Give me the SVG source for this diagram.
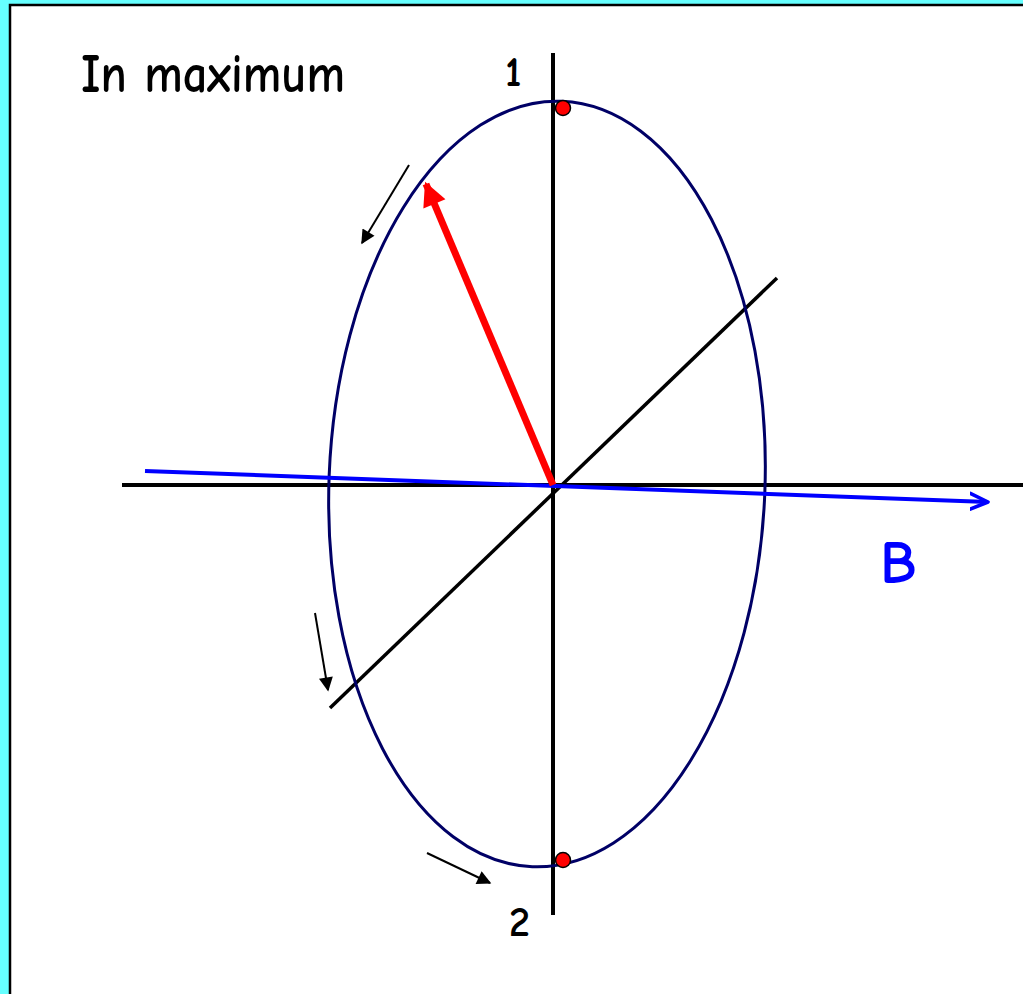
<svg xmlns="http://www.w3.org/2000/svg" width="1023" height="994" viewBox="0 0 1023 994">
<defs>
<style>
.ax{stroke:#000;stroke-width:4;fill:none}
.sm{stroke:#000;stroke-width:2;fill:none}
.t{font-family:"Comic Sans MS","Comic Neue","Liberation Sans",sans-serif;fill:#000;font-weight:bold}
.dot{fill:#ff0000;stroke:#000;stroke-width:1.5}
</style>
<marker id="ah" viewBox="0 0 10 10" refX="9" refY="5" markerWidth="16" markerHeight="14" markerUnits="userSpaceOnUse" orient="auto"><path d="M0,0 L10,5 L0,10 Z" fill="#000"/></marker>
<marker id="ahr" viewBox="0 0 10 10" refX="9" refY="5" markerWidth="28" markerHeight="24" markerUnits="userSpaceOnUse" orient="auto"><path d="M0,0 L10,5 L0,10 Z" fill="#ff0000"/></marker>
<marker id="ahb" viewBox="0 0 10 10" refX="9" refY="5" markerWidth="20" markerHeight="20" markerUnits="userSpaceOnUse" orient="auto"><path d="M0,1 L9,5 L0,9" fill="none" stroke="#0000ff" stroke-width="1.8" stroke-linecap="round" stroke-linejoin="round"/></marker>
</defs>
<rect x="0" y="0" width="1023" height="994" fill="#66ffff"/>
<rect x="10" y="5" width="1030" height="1000" fill="#fff" stroke="#000" stroke-width="2.5"/>
<g id="connectors">
<line class="ax" x1="553" y1="53" x2="553" y2="915"/>
<line class="ax" x1="122" y1="485" x2="1023" y2="485"/>
<line class="ax" style="stroke-width:3.5" x1="330" y1="708" x2="777" y2="278"/>
<ellipse id="ellipse" cx="547" cy="484" rx="218" ry="383" transform="rotate(2.2 547 484)" fill="none" stroke="#000066" stroke-width="3"/>
<line x1="145" y1="471" x2="988" y2="502" stroke="#0000ff" stroke-width="4" marker-end="url(#ahb)"/>
<line x1="553" y1="485" x2="426" y2="184" stroke="#ff0000" stroke-width="7" marker-end="url(#ahr)"/>
<line class="sm" x1="409" y1="165" x2="362" y2="243" marker-end="url(#ah)"/>
<line class="sm" x1="315" y1="613" x2="328" y2="690" marker-end="url(#ah)"/>
<line class="sm" x1="427" y1="853" x2="490" y2="883" marker-end="url(#ah)"/>
</g>
<g id="dots">
<circle class="dot" cx="563" cy="108" r="7.5"/>
<circle class="dot" cx="563" cy="860" r="7.5"/>
</g>
<g id="labels">
<text class="t" x="81" y="92" font-size="54" textLength="264" lengthAdjust="spacingAndGlyphs">In maximum</text>
<text class="t" x="505" y="86" font-size="42">1</text>
<text class="t" x="509" y="936" font-size="42">2</text>
<text class="t" x="880" y="583" font-size="60" style="fill:#0000ff">B</text>
</g>
</svg>
